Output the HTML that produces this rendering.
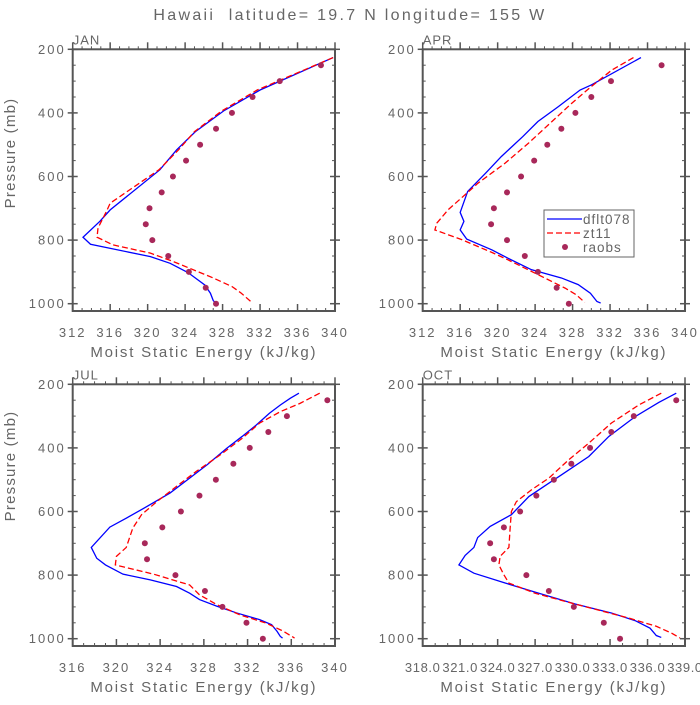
<!DOCTYPE html>
<html><head><meta charset="utf-8">
<style>
html,body{margin:0;padding:0;background:#fff;}
svg text{font-family:"Liberation Sans",sans-serif;fill:#666;white-space:pre;}
</style></head>
<body>
<svg id="chart" width="700" height="700" viewBox="0 0 700 700" xmlns="http://www.w3.org/2000/svg">
<text x="350" y="20" text-anchor="middle" font-size="16" letter-spacing="2.3">Hawaii  latitude= 19.7 N longitude= 155 W</text>
<text transform="translate(15,153) rotate(-90)" text-anchor="middle" font-size="15" letter-spacing="1.2">Pressure (mb)</text>
<text transform="translate(15,466) rotate(-90)" text-anchor="middle" font-size="15" letter-spacing="1.2">Pressure (mb)</text>
</svg>
<script>
// Shared pressure levels for raobs
const raobP = [250,300,350,400,450,500,550,600,650,700,750,800,850,900,950,1000];
// JAN
const janRaob = [338.5,334.1,331.2,329.0,327.3,325.6,324.1,322.7,321.5,320.2,319.8,320.5,322.2,324.4,326.2,327.3];
const janBlueP = [226,328,394,459,516,579,705,741,791,813,852,873,902,941,967,990,996];
const janBlueV = [339.8,332.0,328.1,325.1,323.1,321.3,316.0,314.9,313.1,313.9,320.3,322.4,324.3,326.1,326.7,327.0,327.2];
const janRedP = [226,328,394,459,516,579,684,710,762,791,815,841,867,919,946,967,993];
const janRedV = [339.8,331.7,327.9,325.0,323.3,321.2,316.0,315.6,314.7,314.6,316.3,320.3,322.7,327.0,329.0,330.0,331.0];
// APR
const aprRaob = [337.5,332.1,330.0,328.3,326.8,325.3,323.9,322.5,321.0,319.6,319.3,321.0,322.9,324.3,326.3,327.6];
const aprBlueP = [226,312,328,380,427,474,537,590,647,713,741,768,797,831,857,893,919,940,967,993,998];
const aprBlueV = [335.3,330.0,328.8,326.5,324.3,322.7,320.4,318.7,316.8,316.0,316.4,316.0,316.7,319.4,321.1,323.6,326.8,328.6,329.9,330.6,331.0];
const aprRedP = [226,265,317,370,427,495,558,621,650,705,747,768,799,839,862,904,951,972,996];
const aprRedV = [334.5,332.2,330.0,327.9,325.8,323.3,320.8,317.9,316.8,314.7,313.5,313.3,316.2,319.4,321.1,324.0,327.2,328.4,329.3];
// JUL
const julRaob = [339.3,335.6,333.9,332.2,330.7,329.1,327.6,325.9,324.2,322.6,322.8,325.4,328.1,329.7,331.9,333.4];
const julBlueP = [228,244,265,291,328,364,401,453,495,542,590,621,649,713,747,768,797,815,836,857,877,898,919,940,956,977,993,998];
const julBlueV = [336.7,335.9,335.0,334.0,332.8,331.5,330.1,328.3,326.7,324.9,322.5,320.9,319.4,317.7,318.2,319.0,320.6,323.1,325.5,326.7,327.6,329.2,331.0,333.1,334.2,334.7,335.0,335.2];
const julRedP = [228,260,286,322,370,422,474,521,569,610,652,713,741,768,797,831,862,893,925,951,977,998];
const julRedV = [338.6,336.8,335.0,333.1,331.5,329.5,327.3,325.5,323.7,322.3,321.5,320.9,320.0,319.9,323.4,326.7,327.6,329.2,331.3,333.7,335.3,336.3];
// OCT
const octRaob = [338.3,334.9,333.1,331.4,329.9,328.5,327.1,325.8,324.5,323.4,323.7,326.3,328.1,330.1,332.5,333.8];
const octBlueP = [228,257,302,364,427,485,511,553,610,647,682,713,738,768,794,825,857,891,919,943,967,990,996];
const octBlueV = [338.3,336.9,335.0,332.9,331.3,329.1,328.1,326.5,325.1,323.4,322.4,322.1,321.4,320.9,322.1,324.6,327.3,330.2,333.1,335.0,336.2,336.7,337.1];
const octRedP = [228,265,322,385,437,495,532,569,600,652,713,741,768,799,825,857,891,935,961,982,998];
const octRedV = [337.1,335.3,333.1,331.3,329.7,328.1,326.7,325.5,325.1,325.0,324.9,324.2,324.1,324.5,324.9,327.0,330.2,334.5,336.7,337.9,338.6];
// Axis settings
const xTicks12 = [312,316,320,324,328,332,336,340];
const xTicks16 = [316,320,324,328,332,336,340];
const xTicksOct = [318,321,324,327,330,333,336,339];
const xTickLabelsOct = ["318.0","321.0","324.0","327.0","330.0","333.0","336.0","339.0"];
const yTicks = [200,400,600,800,1000];

const svg = document.getElementById('chart');
const NS = 'http://www.w3.org/2000/svg';
function mk(tag, attrs, parent){const e=document.createElementNS(NS,tag);for(const k in attrs)e.setAttribute(k,attrs[k]);(parent||svg).appendChild(e);return e;}

const panels = [
 {name:'jan',label:'JAN',L:72.7,T:49.3,xmin:312,xmax:340,ticks:xTicks12,labels:null,minorStep:1,raob:janRaob,bp:janBlueP,bv:janBlueV,rp:janRedP,rv:janRedV,legend:false},
 {name:'apr',label:'APR',L:422.7,T:49.3,xmin:312,xmax:340,ticks:xTicks12,labels:null,minorStep:1,raob:aprRaob,bp:aprBlueP,bv:aprBlueV,rp:aprRedP,rv:aprRedV,legend:true},
 {name:'jul',label:'JUL',L:72.7,T:384.3,xmin:316,xmax:340,ticks:xTicks16,labels:null,minorStep:1,raob:julRaob,bp:julBlueP,bv:julBlueV,rp:julRedP,rv:julRedV,legend:false},
 {name:'oct',label:'OCT',L:422.7,T:384.3,xmin:318,xmax:339,ticks:xTicksOct,labels:xTickLabelsOct,minorStep:1,raob:octRaob,bp:octBlueP,bv:octBlueV,rp:octRedP,rv:octRedV,legend:false}
];
const W=262.3, H=261.7, pxPer100=31.8;

panels.forEach(p=>{
  const g = mk('g',{});
  
  
  const xs = v => p.L + (v-p.xmin)/(p.xmax-p.xmin)*W;
  const ys = pr => p.T + (pr-200)/100*pxPer100;
  const B = p.T+H, R = p.L+W;
  const fr = mk('rect',{x:p.L,y:p.T,width:W,height:H,fill:'none',stroke:'#555','stroke-width':2},g);
  
  
  for(let pr=200; pr<=1000; pr+=50){
    const y=ys(pr), major = pr%200===0;
    if(major){
      mk('line',{x1:p.L-5,y1:y,x2:p.L+5,y2:y,stroke:'#555','stroke-width':1.5},g);
      mk('line',{x1:R-5,y1:y,x2:R+5,y2:y,stroke:'#555','stroke-width':1.5},g);
    } else {
      mk('line',{x1:p.L,y1:y,x2:p.L+3,y2:y,stroke:'#555','stroke-width':1},g);
      mk('line',{x1:R-3,y1:y,x2:R,y2:y,stroke:'#555','stroke-width':1},g);
    }
  }
  yTicks.forEach(pr=>{
    const t = mk('text',{x:p.L-7,y:ys(pr)+4.5,'text-anchor':'end','font-size':13,'letter-spacing':2},g);
    t.textContent = pr;
    
    
  });
  for(let v=p.xmin; v<=p.xmax+1e-6; v+=p.minorStep){
    const x=xs(v), major = p.ticks.indexOf(v)>=0;
    const len = major?7:3;
    mk('line',{x1:x,y1:B-len,x2:x,y2:B,stroke:'#555','stroke-width':major?1.5:1},g);
    mk('line',{x1:x,y1:p.T-len,x2:x,y2:p.T,stroke:'#555','stroke-width':major?1.5:1},g);
  }
  p.ticks.forEach((v,i)=>{
    const t = mk('text',{x:xs(v),y:B+26,'text-anchor':'middle','font-size':13,'letter-spacing':p.labels?0.6:2},g);
    t.textContent = p.labels ? p.labels[i] : v;
    
    
  });
  const xt = mk('text',{x:p.L+W/2,y:B+46,'text-anchor':'middle','font-size':15,'letter-spacing':1.8},g);
  xt.textContent = 'Moist Static Energy (kJ/kg)';
  
  
  const lb = mk('text',{x:p.L,y:p.T-5,'font-size':13,'letter-spacing':1},g);
  lb.textContent = p.label;
  
  
  const bl = mk('polyline',{points:p.bp.map((pr,i)=>xs(p.bv[i])+','+ys(pr)).join(' '),fill:'none',stroke:'#0000ff','stroke-width':1.3},g);
  
  
  const rl = mk('polyline',{points:p.rp.map((pr,i)=>xs(p.rv[i])+','+ys(pr)).join(' '),fill:'none',stroke:'#ff0000','stroke-width':1.3,'stroke-dasharray':'6,3'},g);
  
  
  p.raob.forEach((v,i)=>{
    const c = mk('circle',{cx:xs(v),cy:ys(raobP[i]),r:3,fill:'#a8285a'},g);
    
    
  });
  if(p.legend){
    const lg = mk('g',{},g);
    
    
    mk('rect',{x:544,y:210,width:90,height:47,fill:'#fff',stroke:'#666','stroke-width':1},lg);
    const e1 = mk('line',{x1:547,y1:219,x2:582,y2:219,stroke:'#0000ff','stroke-width':1.3},lg);
    
    
    const e2 = mk('line',{x1:547,y1:233,x2:582,y2:233,stroke:'#ff0000','stroke-width':1.3,'stroke-dasharray':'6,3'},lg);
    
    
    const e3 = mk('circle',{cx:565,cy:247,r:3,fill:'#a8285a'},lg);
    
    
    [['dflt078',224],['zt11',238],['raobs',252]].forEach(([s,y])=>{
      const t = mk('text',{x:583,y:y,'font-size':13.5,'letter-spacing':1},lg);
      t.textContent = s;
      
      
    });
  }
});
</script>
</body></html>
